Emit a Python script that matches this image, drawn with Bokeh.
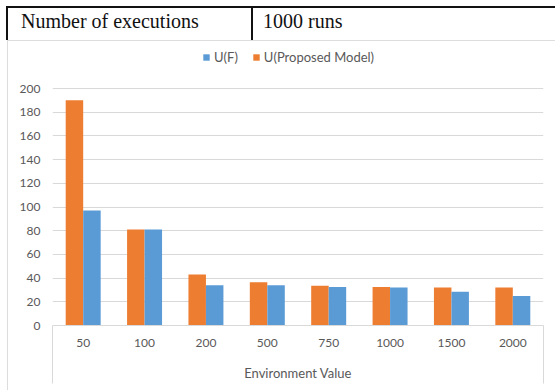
from bokeh.plotting import figure
from bokeh.models import (Range1d, Legend, LegendItem, ColumnDataSource, FixedTicker, Div)
from bokeh.layouts import column, row
from bokeh.transform import dodge
from bokeh.embed import file_html
from bokeh.resources import INLINE

# ---- data ----
env_values = ["50", "100", "200", "500", "750", "1000", "1500", "2000"]
u_proposed = [190, 81, 43, 36.5, 33.5, 32.5, 32, 32]
u_f = [97, 81, 34, 34, 32.5, 32, 28.5, 25]
y_ticks = [0, 20, 40, 60, 80, 100, 120, 140, 160, 180, 200]
series_names = ["U(F)", "U(Proposed Model)"]
header_cells = ["Number of executions", "1000 runs"]
x_title = "Environment Value"

ORANGE = "#ED7D31"
BLUE = "#5B9BD5"
GRID = "#D9D9D9"
TXT = "#595959"
FONT = "Lato"

# layout (pixels): figure 547x349, frame bottom 284 px below figure top;
# value 200 must sit 237 px above value 0 -> extend range above the top tick
FIG_W, FIG_H, BOTTOM = 547, 349, 65
frame_h = FIG_H - BOTTOM
y_top = max(y_ticks) * frame_h / 237.0
EDGE_TICK = 58

xi = list(range(len(env_values)))
src = ColumnDataSource(dict(xi=xi, up=u_proposed, uf=u_f))

p = figure(width=FIG_W, height=FIG_H, x_range=Range1d(-0.5, len(env_values) - 0.5),
           y_range=Range1d(0, y_top), output_backend="svg", toolbar_location=None,
           min_border_left=44, min_border_right=12, min_border_top=0,
           min_border_bottom=BOTTOM, outline_line_color=None, margin=0)

bw = 0.285
r_or = p.vbar(x=dodge("xi", -bw / 2), top="up", width=bw,
              source=src, color=ORANGE, line_color=None)
r_bl = p.vbar(x=dodge("xi", bw / 2), top="uf", width=bw,
              source=src, color=BLUE, line_color=None)

# y axis
p.yaxis.ticker = FixedTicker(ticks=y_ticks)
p.yaxis.axis_line_color = None
p.yaxis.major_tick_line_color = None
p.yaxis.major_tick_out = 0
p.yaxis.minor_tick_line_color = None
p.yaxis.major_label_standoff = 12
p.yaxis.major_label_text_font = FONT
p.yaxis.major_label_text_font_size = "12px"
p.yaxis.major_label_text_color = TXT

# x axis (category centres as major ticks, category-axis edges as long minor ticks)
p.xaxis.ticker = FixedTicker(ticks=xi, minor_ticks=[-0.5, len(env_values) - 0.5])
p.xaxis.major_label_overrides = {i: lab for i, lab in zip(xi, env_values)}
p.xaxis.axis_line_color = GRID
p.xaxis.axis_line_width = 1
p.xaxis.major_tick_line_color = None
p.xaxis.major_tick_out = 0
p.xaxis.major_tick_in = 0
p.xaxis.minor_tick_line_color = GRID
p.xaxis.minor_tick_in = 0
p.xaxis.minor_tick_out = EDGE_TICK
p.xaxis.major_label_standoff = 13 - EDGE_TICK
p.xaxis.major_label_text_font = FONT
p.xaxis.major_label_text_font_size = "12px"
p.xaxis.major_label_text_color = TXT
p.xaxis.axis_label = x_title
p.xaxis.axis_label_text_font = FONT
p.xaxis.axis_label_text_font_size = "13px"
p.xaxis.axis_label_text_font_style = "normal"
p.xaxis.axis_label_text_color = TXT
p.xaxis.axis_label_standoff = 15

p.xgrid.grid_line_color = None
p.ygrid.grid_line_color = GRID
p.ygrid.grid_line_width = 1

legend = Legend(items=[LegendItem(label=series_names[0], renderers=[r_bl]),
                       LegendItem(label=series_names[1], renderers=[r_or])],
                orientation="horizontal", location=(150, frame_h - 24),
                border_line_color=None, background_fill_alpha=0,
                glyph_width=8, glyph_height=8, label_standoff=4, spacing=14,
                padding=0, margin=0, label_text_font=FONT,
                label_text_font_size="13px", label_text_color=TXT,
                label_height=14)
p.add_layout(legend, "center")

# header table (HTML) and chart-area border lines
def box(l, t, w, h, c):
    return (f'<div style="position:absolute;left:{l}px;top:{t}px;width:{w}px;'
            f'height:{h}px;background:{c};"></div>')

def cell(l, txt):
    return (f'<div style="position:absolute;left:{l}px;top:12px;'
            f'font-family:\'Liberation Serif\';font-size:20px;line-height:19px;'
            f'color:#111;white-space:nowrap;">{txt}</div>')

header_html = ('<div style="position:relative;width:555px;height:41px;">'
               + box(7, 6, 548, 2, "#111")
               + box(6, 6, 2, 34, "#111")
               + box(251, 6, 2, 34, "#111")
               + box(7, 40, 548, 1, "#DDDDDD")
               + cell(21, header_cells[0]) + cell(263, header_cells[1])
               + '</div>')
header = Div(text=header_html, width=555, height=41, margin=0)
left_border = Div(text='<div style="margin-left:7px;width:1px;height:349px;'
                       'background:#DDDDDD;"></div>', width=8, height=FIG_H, margin=0)

layout = column(header, row(left_border, p, spacing=0), spacing=0)

open("out.html", "w").write(file_html(layout, INLINE))
